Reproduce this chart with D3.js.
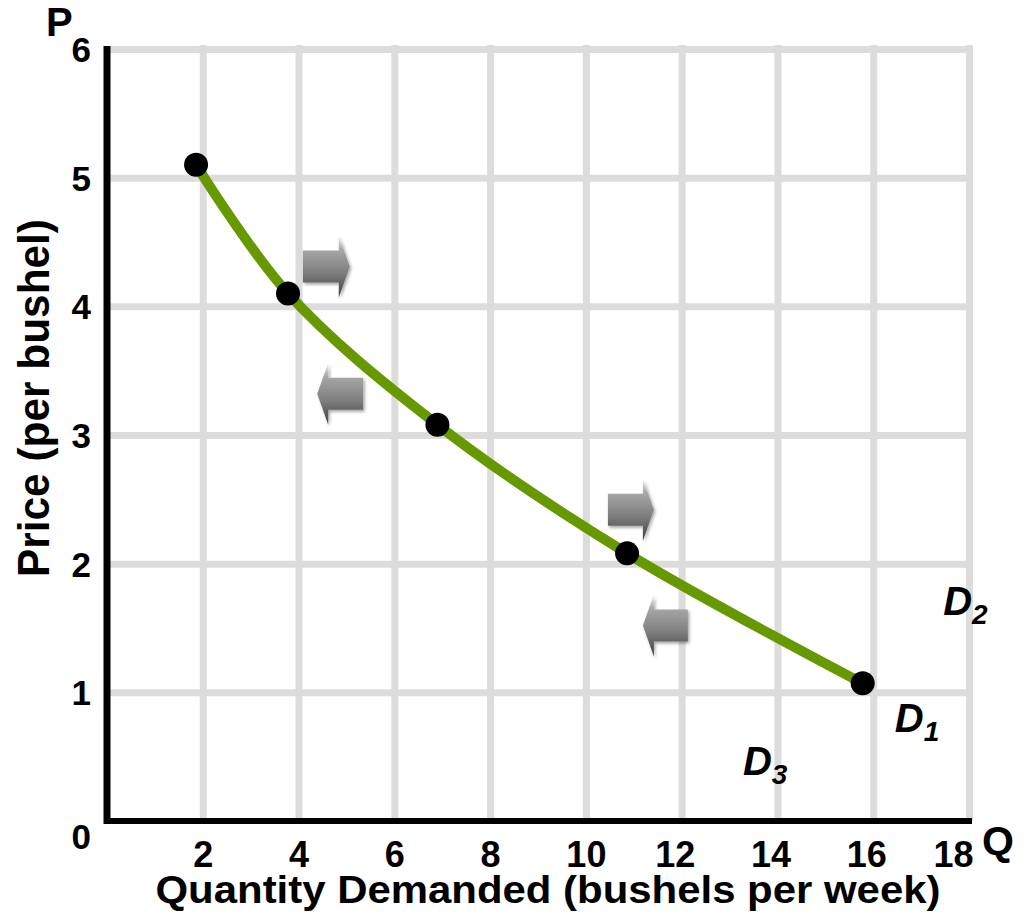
<!DOCTYPE html>
<html>
<head>
<meta charset="utf-8">
<script src="https://cdn.jsdelivr.net/npm/d3@7"></script>
<style>
  body { margin: 0; background: #fff; }
  text { font-family: "Liberation Sans", Arial, sans-serif; font-weight: bold; fill: #000; }
</style>
</head>
<body>
<div id="chart"></div>
<script>
// demand schedule
var quantity = [1.86, 3.78, 6.9, 10.86, 15.78];
var price = [5.1, 4.1, 3.08, 2.08, 1.07];

// tick labels
var xTicks = [2, 4, 6, 8, 10, 12, 14, 16, 18];
var yTicks = [0, 1, 2, 3, 4, 5, 6];

// shift arrows: direction, tail q, tip q, price level
var arrowDir = ["right", "left", "right", "left"];
var arrowTail = [4.09, 5.35, 10.46, 12.13];
var arrowTip = [5.07, 4.39, 11.42, 11.19];
var arrowP = [4.31, 3.32, 2.42, 1.52];

// curve labels
var curveSub = ["2", "1", "3"];
var curveLabelQ = [17.46, 16.45, 13.28];
var curveLabelP = [1.6, 0.69, 0.36];

var W = 1026, H = 919;
var svg = d3.select('#chart').append('svg')
    .attr('width', W)
    .attr('height', H)

var x = d3.scaleLinear().domain([0, 18]).range([107, 969]);
var y = d3.scaleLinear().domain([0, 6]).range([821, 49]);

// arrow gradient
var defs = svg.append('defs')
var grad = defs.append('linearGradient')
    .attr('id', 'metal')
    .attr('x1', 0).attr('y1', 0).attr('x2', 0).attr('y2', 1)
grad.append('stop').attr('offset', '0%').attr('stop-color', '#f4f4f4')
grad.append('stop').attr('offset', '22%').attr('stop-color', '#a8a8a8')
grad.append('stop').attr('offset', '60%').attr('stop-color', '#7f7f7f')
grad.append('stop').attr('offset', '100%').attr('stop-color', '#3f3f3f')
var shadow = defs.append('filter').attr('id', 'shadow')
    .attr('x', '-20%').attr('y', '-20%').attr('width', '150%').attr('height', '150%')
shadow.append('feDropShadow')
    .attr('dx', 1.5).attr('dy', 2).attr('stdDeviation', 1.5)
    .attr('flood-color', '#000').attr('flood-opacity', 0.35)

// grid lines
var grid = svg.append('g')
grid.append('g')
    .attr('transform', 'translate(0,' + y(0) + ')')
    .call(d3.axisBottom(x).tickValues(xTicks).tickSize(-(y(0) - y(6) + 4)).tickFormat(''))
grid.append('g')
    .attr('transform', 'translate(' + x(0) + ',0)')
    .call(d3.axisLeft(y).tickValues(yTicks.slice(1)).tickSize(-(x(18) - x(0) + 3)).tickFormat(''))
grid.selectAll('.domain').remove()
grid.selectAll('line')
    .attr('stroke', '#dcdcdc')
    .attr('stroke-width', 7)

// axis lines
svg.append('line')
    .attr('x1', x(0)).attr('x2', x(0))
    .attr('y1', y(6) - 3).attr('y2', y(0) + 3)
    .attr('stroke', '#000').attr('stroke-width', 7)
svg.append('line')
    .attr('x1', x(0) - 3).attr('x2', x(18) + 3)
    .attr('y1', y(0)).attr('y2', y(0))
    .attr('stroke', '#000').attr('stroke-width', 6)

// tick labels
var xAxis = svg.append('g')
    .attr('transform', 'translate(0,' + y(0) + ')')
    .call(d3.axisBottom(x).tickValues(xTicks).tickSize(0).tickFormat(d3.format('d')))
xAxis.select('.domain').remove()
xAxis.selectAll('text')
    .attr('y', 46).attr('dy', 0)
    .attr('dx', function(d) { return d == 18 ? -16 : (d >= 12 ? -7 : 0) })
    .style('font-size', '36px')
    .style('font-family', '"Liberation Sans", Arial, sans-serif')
    .style('font-weight', 'bold')

var yAxis = svg.append('g')
    .attr('transform', 'translate(' + x(0) + ',0)')
    .call(d3.axisLeft(y).tickValues(yTicks).tickSize(0).tickFormat(d3.format('d')))
yAxis.select('.domain').remove()
yAxis.selectAll('text')
    .attr('x', -16)
    .attr('dy', function(d) { return d == 0 ? '0.78em' : '0.36em' })
    .style('font-size', '35px')
    .style('font-family', '"Liberation Sans", Arial, sans-serif')
    .style('font-weight', 'bold')

// axis letters
svg.append('text').attr('x', 46).attr('y', 36).attr('font-size', 40).text('P')
svg.append('text').attr('x', 982).attr('y', 855).attr('font-size', 41).text('Q')

// axis titles
svg.append('text')
    .attr('x', 548).attr('y', 903)
    .attr('text-anchor', 'middle')
    .attr('font-size', 39)
    .attr('textLength', 785)
    .attr('lengthAdjust', 'spacingAndGlyphs')
    .text('Quantity Demanded (bushels per week)')
svg.append('text')
    .attr('transform', 'translate(49,398) rotate(-90)')
    .attr('text-anchor', 'middle')
    .attr('font-size', 44)
    .attr('textLength', 358)
    .attr('lengthAdjust', 'spacingAndGlyphs')
    .text('Price (per bushel)')

// arrows
var bodyH = 32, headH = 62, headL = 11;
svg.append('g').selectAll('path')
    .data(arrowDir)
    .enter().append('path')
    .attr('d', function(d, i) {
        var t = x(arrowTail[i]), p = x(arrowTip[i]), c = y(arrowP[i]);
        var s = p > t ? 1 : -1;
        var b = p - s * headL;
        return 'M' + t + ',' + (c - bodyH / 2) +
            'L' + b + ',' + (c - bodyH / 2) +
            'L' + b + ',' + (c - headH / 2) +
            'L' + p + ',' + c +
            'L' + b + ',' + (c + headH / 2) +
            'L' + b + ',' + (c + bodyH / 2) +
            'L' + t + ',' + (c + bodyH / 2) + 'Z'
    })
    .attr('fill', 'url(#metal)')
    .attr('filter', 'url(#shadow)')

// demand curve
var pts = quantity.map(function(q, i) { return [q, price[i]] })
var line = d3.line()
    .x(function(d) { return x(d[0]) })
    .y(function(d) { return y(d[1]) })
    .curve(d3.curveCatmullRom.alpha(0.5))
svg.append('path')
    .datum(pts)
    .attr('d', line)
    .attr('fill', 'none')
    .attr('stroke', '#669900')
    .attr('stroke-width', 10)

svg.append('g').selectAll('circle')
    .data(pts)
    .enter().append('circle')
    .attr('cx', function(d) { return x(d[0]) })
    .attr('cy', function(d) { return y(d[1]) })
    .attr('r', 12)
    .attr('fill', '#000')

// D labels
var lab = svg.append('g').selectAll('text')
    .data(curveSub)
    .enter().append('text')
    .attr('x', function(d, i) { return x(curveLabelQ[i]) })
    .attr('y', function(d, i) { return y(curveLabelP[i]) })
    .attr('font-size', 40)
    .style('font-style', 'italic')
lab.append('tspan').text('D')
lab.append('tspan')
    .attr('dy', 9)
    .attr('font-size', 28)
    .text(function(d) { return d })
</script>
</body>
</html>
